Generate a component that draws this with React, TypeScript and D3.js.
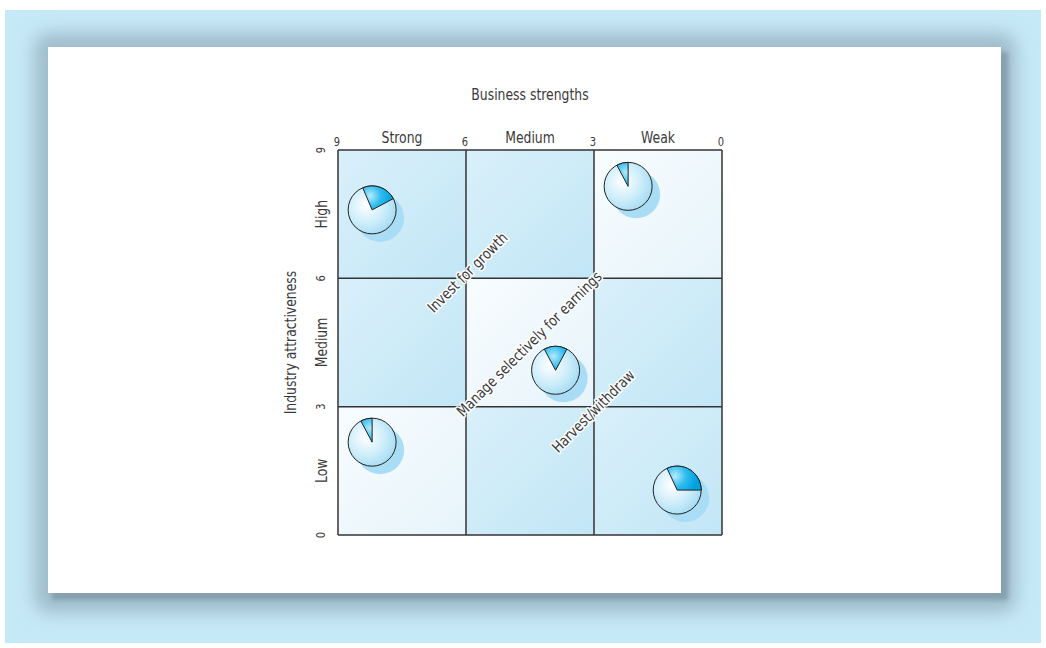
import React from "react";
import * as d3 from "d3";

const W = 1046;
const H = 648;

// Axis data
const strengthTicks = [9, 6, 3, 0];
const strengthBands = ["Strong", "Medium", "Weak"];
const attractTicks = [0, 3, 6, 9];
const attractBands = ["Low", "Medium", "High"];

// Cell shading: rows from top (High) to bottom (Low), columns Strong..Weak
const cellTone = [
  ["mid", "mid", "light"],
  ["mid", "light", "mid"],
  ["light", "mid", "mid"],
];

// Business units (pies)
const unitStrength = [8.2, 2.2, 3.9, 8.2, 1.05];
const unitAttract = [7.6, 8.15, 3.85, 2.17, 1.05];
const sliceStartDeg = [-23, -28, -28, -28, -25];
const sliceEndDeg = [62, 0, 28, 0, 90];

// Diagonal strategy labels
const stratLabels = ["Invest for growth", "Manage selectively for earnings", "Harvest/withdraw"];
const stratAtStrength = [5.95, 4.5, 3.0];
const stratAtAttract = [6.12, 4.45, 2.88];

const FONT = "'DejaVu Sans Condensed', 'Liberation Sans Narrow', 'Open Sans', sans-serif";
const SX = 0.92;

export default function App() {
  const x = d3.scaleLinear().domain([9, 0]).range([338, 722]);
  const y = d3.scaleLinear().domain([0, 9]).range([535, 150]);
  const r = 24;
  const arc = d3.arc<any>();
  const deg = Math.PI / 180;

  const colEdges = strengthTicks.map((t) => x(t));
  const rowEdges = [9, 6, 3, 0].map((t) => y(t));

  const textColor = "#3a3a3a";

  return (
    <svg width={W} height={H} style={{ position: "absolute", left: 0, top: 0 }}>
      <defs>
        <filter id="blur" x="-10%" y="-10%" width="120%" height="120%">
          <feGaussianBlur stdDeviation="9" />
        </filter>
        <filter id="blur2" x="-10%" y="-10%" width="120%" height="120%">
          <feGaussianBlur stdDeviation="2" />
        </filter>
        <linearGradient id="gMid" x1="0" y1="0" x2="1" y2="1">
          <stop offset="0%" stopColor="#d9f0fa" />
          <stop offset="100%" stopColor="#c2e6f6" />
        </linearGradient>
        <linearGradient id="gLight" x1="0" y1="0" x2="1" y2="1">
          <stop offset="0%" stopColor="#f8fcfe" />
          <stop offset="100%" stopColor="#e6f4fb" />
        </linearGradient>
        <radialGradient id="gPie" cx="0.38" cy="0.4" r="0.7">
          <stop offset="0%" stopColor="#ffffff" />
          <stop offset="55%" stopColor="#cdedfa" />
          <stop offset="100%" stopColor="#9fd9f2" />
        </radialGradient>
        <radialGradient id="gSlice" gradientUnits="userSpaceOnUse" cx="-2" cy="-14" r="22">
          <stop offset="0%" stopColor="#b5ebfc" />
          <stop offset="50%" stopColor="#2fbbee" />
          <stop offset="100%" stopColor="#00a2e0" />
        </radialGradient>
      </defs>

      {/* page background */}
      <rect x={5} y={10} width={1036} height={633} fill="#c6e9f8" />
      {/* card shadow */}
      <rect x={34} y={33} width={982} height={580} rx={14} fill="#7f98a6" opacity={0.55} filter="url(#blur)" />
      <rect x={52} y={52} width={956} height={548} fill="#86a0ae" filter="url(#blur2)" />
      {/* card */}
      <rect x={48} y={47} width={953} height={546} fill="#ffffff" />

      {/* cells */}
      {cellTone.map((row, ri) =>
        row.map((tone, ci) => (
          <rect
            key={`c${ri}${ci}`}
            x={colEdges[ci]}
            y={rowEdges[ri]}
            width={colEdges[ci + 1] - colEdges[ci]}
            height={rowEdges[ri + 1] - rowEdges[ri]}
            fill={tone === "mid" ? "url(#gMid)" : "url(#gLight)"}
          />
        ))
      )}

      {/* grid lines */}
      {colEdges.map((cx, i) => (
        <line key={`v${i}`} x1={cx} x2={cx} y1={y(9)} y2={y(0)} stroke="#333" strokeWidth={1.5} />
      ))}
      {rowEdges.map((ry, i) => (
        <line key={`h${i}`} x1={x(9)} x2={x(0)} y1={ry} y2={ry} stroke="#333" strokeWidth={1.5} />
      ))}

      {/* pies */}
      {unitStrength.map((s, i) => {
        const cx = x(s);
        const cy = y(unitAttract[i]);
        return (
          <g key={`p${i}`}>
            <circle cx={cx + 8} cy={cy + 8} r={r} fill="#a9ddf5" />
            <circle cx={cx} cy={cy} r={r} fill="url(#gPie)" stroke="#222" strokeWidth={1} />
            <path
              transform={`translate(${cx},${cy})`}
              d={arc({ innerRadius: 0, outerRadius: r, startAngle: sliceStartDeg[i] * deg, endAngle: sliceEndDeg[i] * deg }) as string}
              fill="url(#gSlice)"
              stroke="#222"
              strokeWidth={1}
              strokeLinejoin="round"
            />
          </g>
        );
      })}

      {/* diagonal strategy labels */}
      {stratLabels.map((t, i) => (
        <text
          key={`s${i}`}
          transform={`translate(${x(stratAtStrength[i])},${y(stratAtAttract[i])}) rotate(-45) scale(${SX},1)`}
          textAnchor="middle"
          dominantBaseline="middle"
          fontFamily={FONT}
          fontSize={15}
          fill={textColor}
          stroke="#ffffff"
          strokeWidth={3}
          paintOrder="stroke"
          strokeLinejoin="round"
        >
          {t}
        </text>
      ))}

      {/* top axis */}
      <text transform={`translate(530,100) scale(${SX},1)`} textAnchor="middle" fontFamily={FONT} fontSize={15} fill={textColor}>
        Business strengths
      </text>
      {strengthBands.map((b, i) => (
        <text
          key={`sb${i}`}
          transform={`translate(${(colEdges[i] + colEdges[i + 1]) / 2},143) scale(${SX},1)`}
          textAnchor="middle"
          fontFamily={FONT}
          fontSize={15}
          fill={textColor}
        >
          {b}
        </text>
      ))}
      {strengthTicks.map((t, i) => (
        <text
          key={`st${i}`}
          transform={`translate(${x(t) - 1},146) scale(${SX},1)`}
          textAnchor="middle"
          fontFamily={FONT}
          fontSize={12}
          fill={textColor}
        >
          {t}
        </text>
      ))}

      {/* left axis */}
      <text
        transform={`translate(296,${(y(0) + y(9)) / 2}) rotate(-90) scale(${SX},1)`}
        textAnchor="middle"
        fontFamily={FONT}
        fontSize={15}
        fill={textColor}
      >
        Industry attractiveness
      </text>
      {attractBands.map((b, i) => (
        <text
          key={`ab${i}`}
          transform={`translate(327,${(y(i * 3) + y(i * 3 + 3)) / 2}) rotate(-90) scale(${SX},1)`}
          textAnchor="middle"
          fontFamily={FONT}
          fontSize={15}
          fill={textColor}
        >
          {b}
        </text>
      ))}
      {attractTicks.map((t, i) => (
        <text
          key={`at${i}`}
          transform={`translate(325,${y(t)}) rotate(-90) scale(${SX},1)`}
          textAnchor="middle"
          fontFamily={FONT}
          fontSize={12}
          fill={textColor}
        >
          {t}
        </text>
      ))}
    </svg>
  );
}
